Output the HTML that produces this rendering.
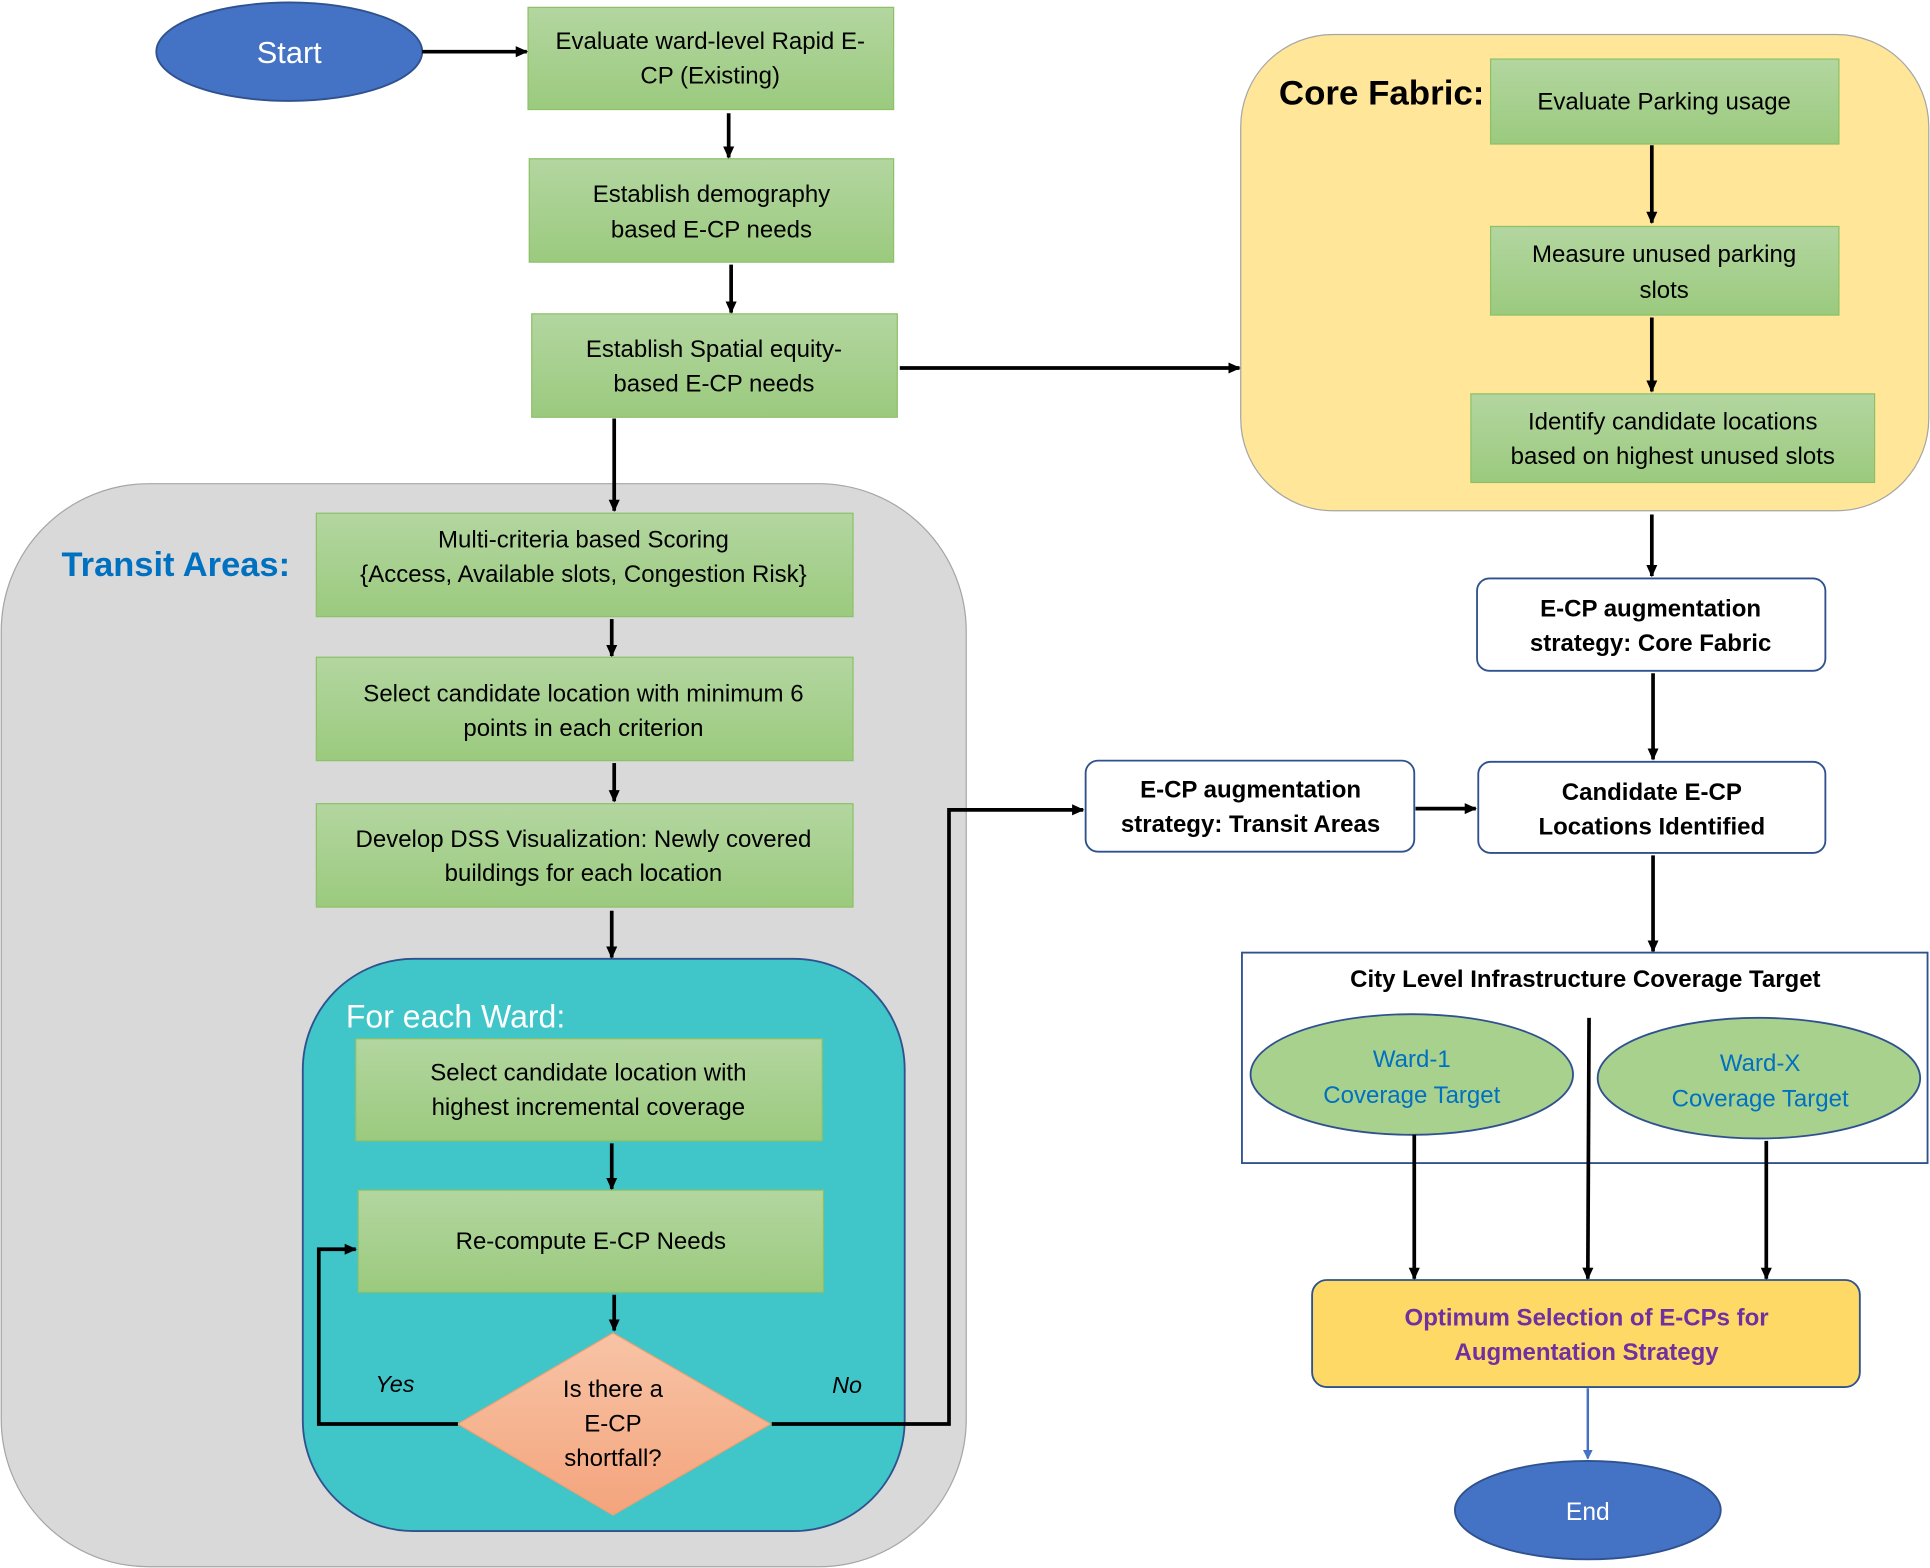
<!DOCTYPE html>
<html><head><meta charset="utf-8"><style>
html,body{margin:0;padding:0;background:#fff;}
svg{display:block;}
text{font-family:"Liberation Sans",sans-serif;}
</style></head><body>
<svg width="1930" height="1568" viewBox="0 0 1568 1274" preserveAspectRatio="none" xmlns="http://www.w3.org/2000/svg">
<defs>
<linearGradient id="g" x1="0" y1="0" x2="0" y2="1"><stop offset="0" stop-color="#b3d6a0"/><stop offset="1" stop-color="#9bca7e"/></linearGradient>
<linearGradient id="o" x1="0" y1="0" x2="0" y2="1"><stop offset="0" stop-color="#f7c4a6"/><stop offset="1" stop-color="#f4a47c"/></linearGradient>
<marker id="a" markerWidth="10" markerHeight="10" refX="9" refY="5" orient="auto" markerUnits="userSpaceOnUse"><path d="M0,0.5 L10,5 L0,9.5 z" fill="#000"/></marker>
<marker id="ab" markerWidth="8" markerHeight="8" refX="7" refY="4" orient="auto" markerUnits="userSpaceOnUse"><path d="M0,0 L8,4 L0,8 z" fill="#4472C4"/></marker>
</defs>
<rect x="1008" y="28" width="559" height="387" rx="75" fill="#FFE699" stroke="#a6a6a6" stroke-width="1"/>
<rect x="1" y="393" width="784" height="880" rx="120" fill="#D9D9D9" stroke="#a6a6a6" stroke-width="1"/>
<rect x="246" y="779" width="489" height="465" rx="90" fill="#40C5C8" stroke="#2F528F" stroke-width="1.5"/>
<text x="50" y="468" font-size="28" font-weight="bold" fill="#0070C0">Transit Areas:</text>
<text x="1039" y="85" font-size="28" font-weight="bold" fill="#000" textLength="167" lengthAdjust="spacingAndGlyphs">Core Fabric:</text>
<text x="281" y="835" font-size="26" fill="#fff">For each Ward:</text>

<ellipse cx="235" cy="42" rx="108" ry="40" fill="#4472C4" stroke="#2F528F" stroke-width="1.5"/>
<text x="235" y="51" font-size="25" fill="#fff" text-anchor="middle">Start</text>

<g fill="url(#g)" stroke="#8cc168" stroke-width="1">
<rect x="429" y="6" width="297" height="83"/>
<rect x="430" y="129" width="296" height="84"/>
<rect x="432" y="255" width="297" height="84"/>
<rect x="1211" y="48" width="283" height="69"/>
<rect x="1211" y="184" width="283" height="72"/>
<rect x="1195" y="320" width="328" height="72"/>
<rect x="257" y="417" width="436" height="84"/>
<rect x="257" y="534" width="436" height="84"/>
<rect x="257" y="653" width="436" height="84"/>
<rect x="289" y="844" width="379" height="83"/>
<rect x="291" y="967" width="378" height="83"/>
</g>
<g font-size="19.5" fill="#000" text-anchor="middle">
<text x="577" y="40">Evaluate ward-level Rapid E-</text><text x="577" y="68">CP (Existing)</text>
<text x="578" y="164">Establish demography</text><text x="578" y="193">based E-CP needs</text>
<text x="580" y="290">Establish Spatial equity-</text><text x="580" y="318">based E-CP needs</text>
<text x="1352" y="89">Evaluate Parking usage</text>
<text x="1352" y="213">Measure unused parking</text><text x="1352" y="242">slots</text>
<text x="1359" y="349">Identify candidate locations</text><text x="1359" y="377">based on highest unused slots</text>
<text x="474" y="445">Multi-criteria based Scoring</text><text x="474" y="473">{Access, Available slots, Congestion Risk}</text>
<text x="474" y="570">Select candidate location with minimum 6</text><text x="474" y="598">points in each criterion</text>
<text x="474" y="688">Develop DSS Visualization: Newly covered</text><text x="474" y="716">buildings for each location</text>
<text x="478" y="878">Select candidate location with</text><text x="478" y="906">highest incremental coverage</text>
<text x="480" y="1015">Re-compute E-CP Needs</text>
</g>

<polygon points="498,1083 626,1157 498,1231 372,1157" fill="url(#o)" stroke="#f0a070" stroke-width="1"/>
<g font-size="19.5" text-anchor="middle" fill="#000">
<text x="498" y="1135">Is there a</text><text x="498" y="1163">E-CP</text><text x="498" y="1191">shortfall?</text>
</g>
<text x="305" y="1131" font-size="19" font-style="italic">Yes</text>
<text x="676" y="1132" font-size="19" font-style="italic">No</text>

<g fill="#fff" stroke="#2F528F" stroke-width="1.5">
<rect x="1200" y="470" width="283" height="75" rx="10"/>
<rect x="1201" y="619" width="282" height="74" rx="10"/>
<rect x="882" y="618" width="267" height="74" rx="10"/>
<rect x="1009" y="774" width="557" height="171"/>
</g>
<g font-size="19.5" font-weight="bold" text-anchor="middle" fill="#000">
<text x="1341" y="501">E-CP augmentation</text><text x="1341" y="529">strategy: Core Fabric</text>
<text x="1342" y="650">Candidate E-CP</text><text x="1342" y="678">Locations Identified</text>
<text x="1016" y="648">E-CP augmentation</text><text x="1016" y="676">strategy: Transit Areas</text>
<text x="1288" y="802">City Level Infrastructure Coverage Target</text>
</g>
<ellipse cx="1147" cy="873" rx="131" ry="49" fill="#A9D18E" stroke="#2F528F" stroke-width="1.5"/>
<ellipse cx="1429" cy="876" rx="131" ry="49" fill="#A9D18E" stroke="#2F528F" stroke-width="1.5"/>
<g font-size="19.5" fill="#0070C0" text-anchor="middle">
<text x="1147" y="867">Ward-1</text><text x="1147" y="896">Coverage Target</text>
<text x="1430" y="870">Ward-X</text><text x="1430" y="899">Coverage Target</text>
</g>

<rect x="1066" y="1040" width="445" height="87" rx="12" fill="#FFD966" stroke="#2F528F" stroke-width="1.5"/>
<g font-size="19.5" font-weight="bold" fill="#7030A0" text-anchor="middle">
<text x="1289" y="1077">Optimum Selection of E-CPs for</text><text x="1289" y="1105">Augmentation Strategy</text>
</g>
<ellipse cx="1290" cy="1227" rx="108" ry="40" fill="#4472C4" stroke="#2F528F" stroke-width="1.5"/>
<text x="1290" y="1235" font-size="20" fill="#fff" text-anchor="middle">End</text>

<g stroke="#000" stroke-width="3" fill="none" marker-end="url(#a)">
<line x1="343" y1="42" x2="428" y2="42"/>
<line x1="592" y1="92" x2="592" y2="128"/>
<line x1="594" y1="215" x2="594" y2="254"/>
<line x1="731" y1="299" x2="1007" y2="299"/>
<line x1="1342" y1="118" x2="1342" y2="181"/>
<line x1="1342" y1="258" x2="1342" y2="318"/>
<line x1="1342" y1="418" x2="1342" y2="468"/>
<line x1="1343" y1="547" x2="1343" y2="617"/>
<line x1="1150" y1="657" x2="1199" y2="657"/>
<line x1="1343" y1="695" x2="1343" y2="773"/>
<line x1="1149" y1="922" x2="1149" y2="1039"/>
<line x1="1291" y1="827" x2="1290" y2="1039"/>
<line x1="1435" y1="927" x2="1435" y2="1039"/>
<line x1="499" y1="340" x2="499" y2="415"/>
<line x1="497" y1="503" x2="497" y2="533"/>
<line x1="499" y1="620" x2="499" y2="651"/>
<line x1="497" y1="740" x2="497" y2="778"/>
<line x1="497" y1="929" x2="497" y2="966"/>
<line x1="499" y1="1052" x2="499" y2="1081"/>
<polyline points="372,1157 259,1157 259,1015 289,1015"/>
<polyline points="627,1157 771,1157 771,658 880,658"/>
</g>
<line x1="1290" y1="1128" x2="1290" y2="1185" stroke="#4472C4" stroke-width="2" marker-end="url(#ab)"/>
</svg>
</body></html>
